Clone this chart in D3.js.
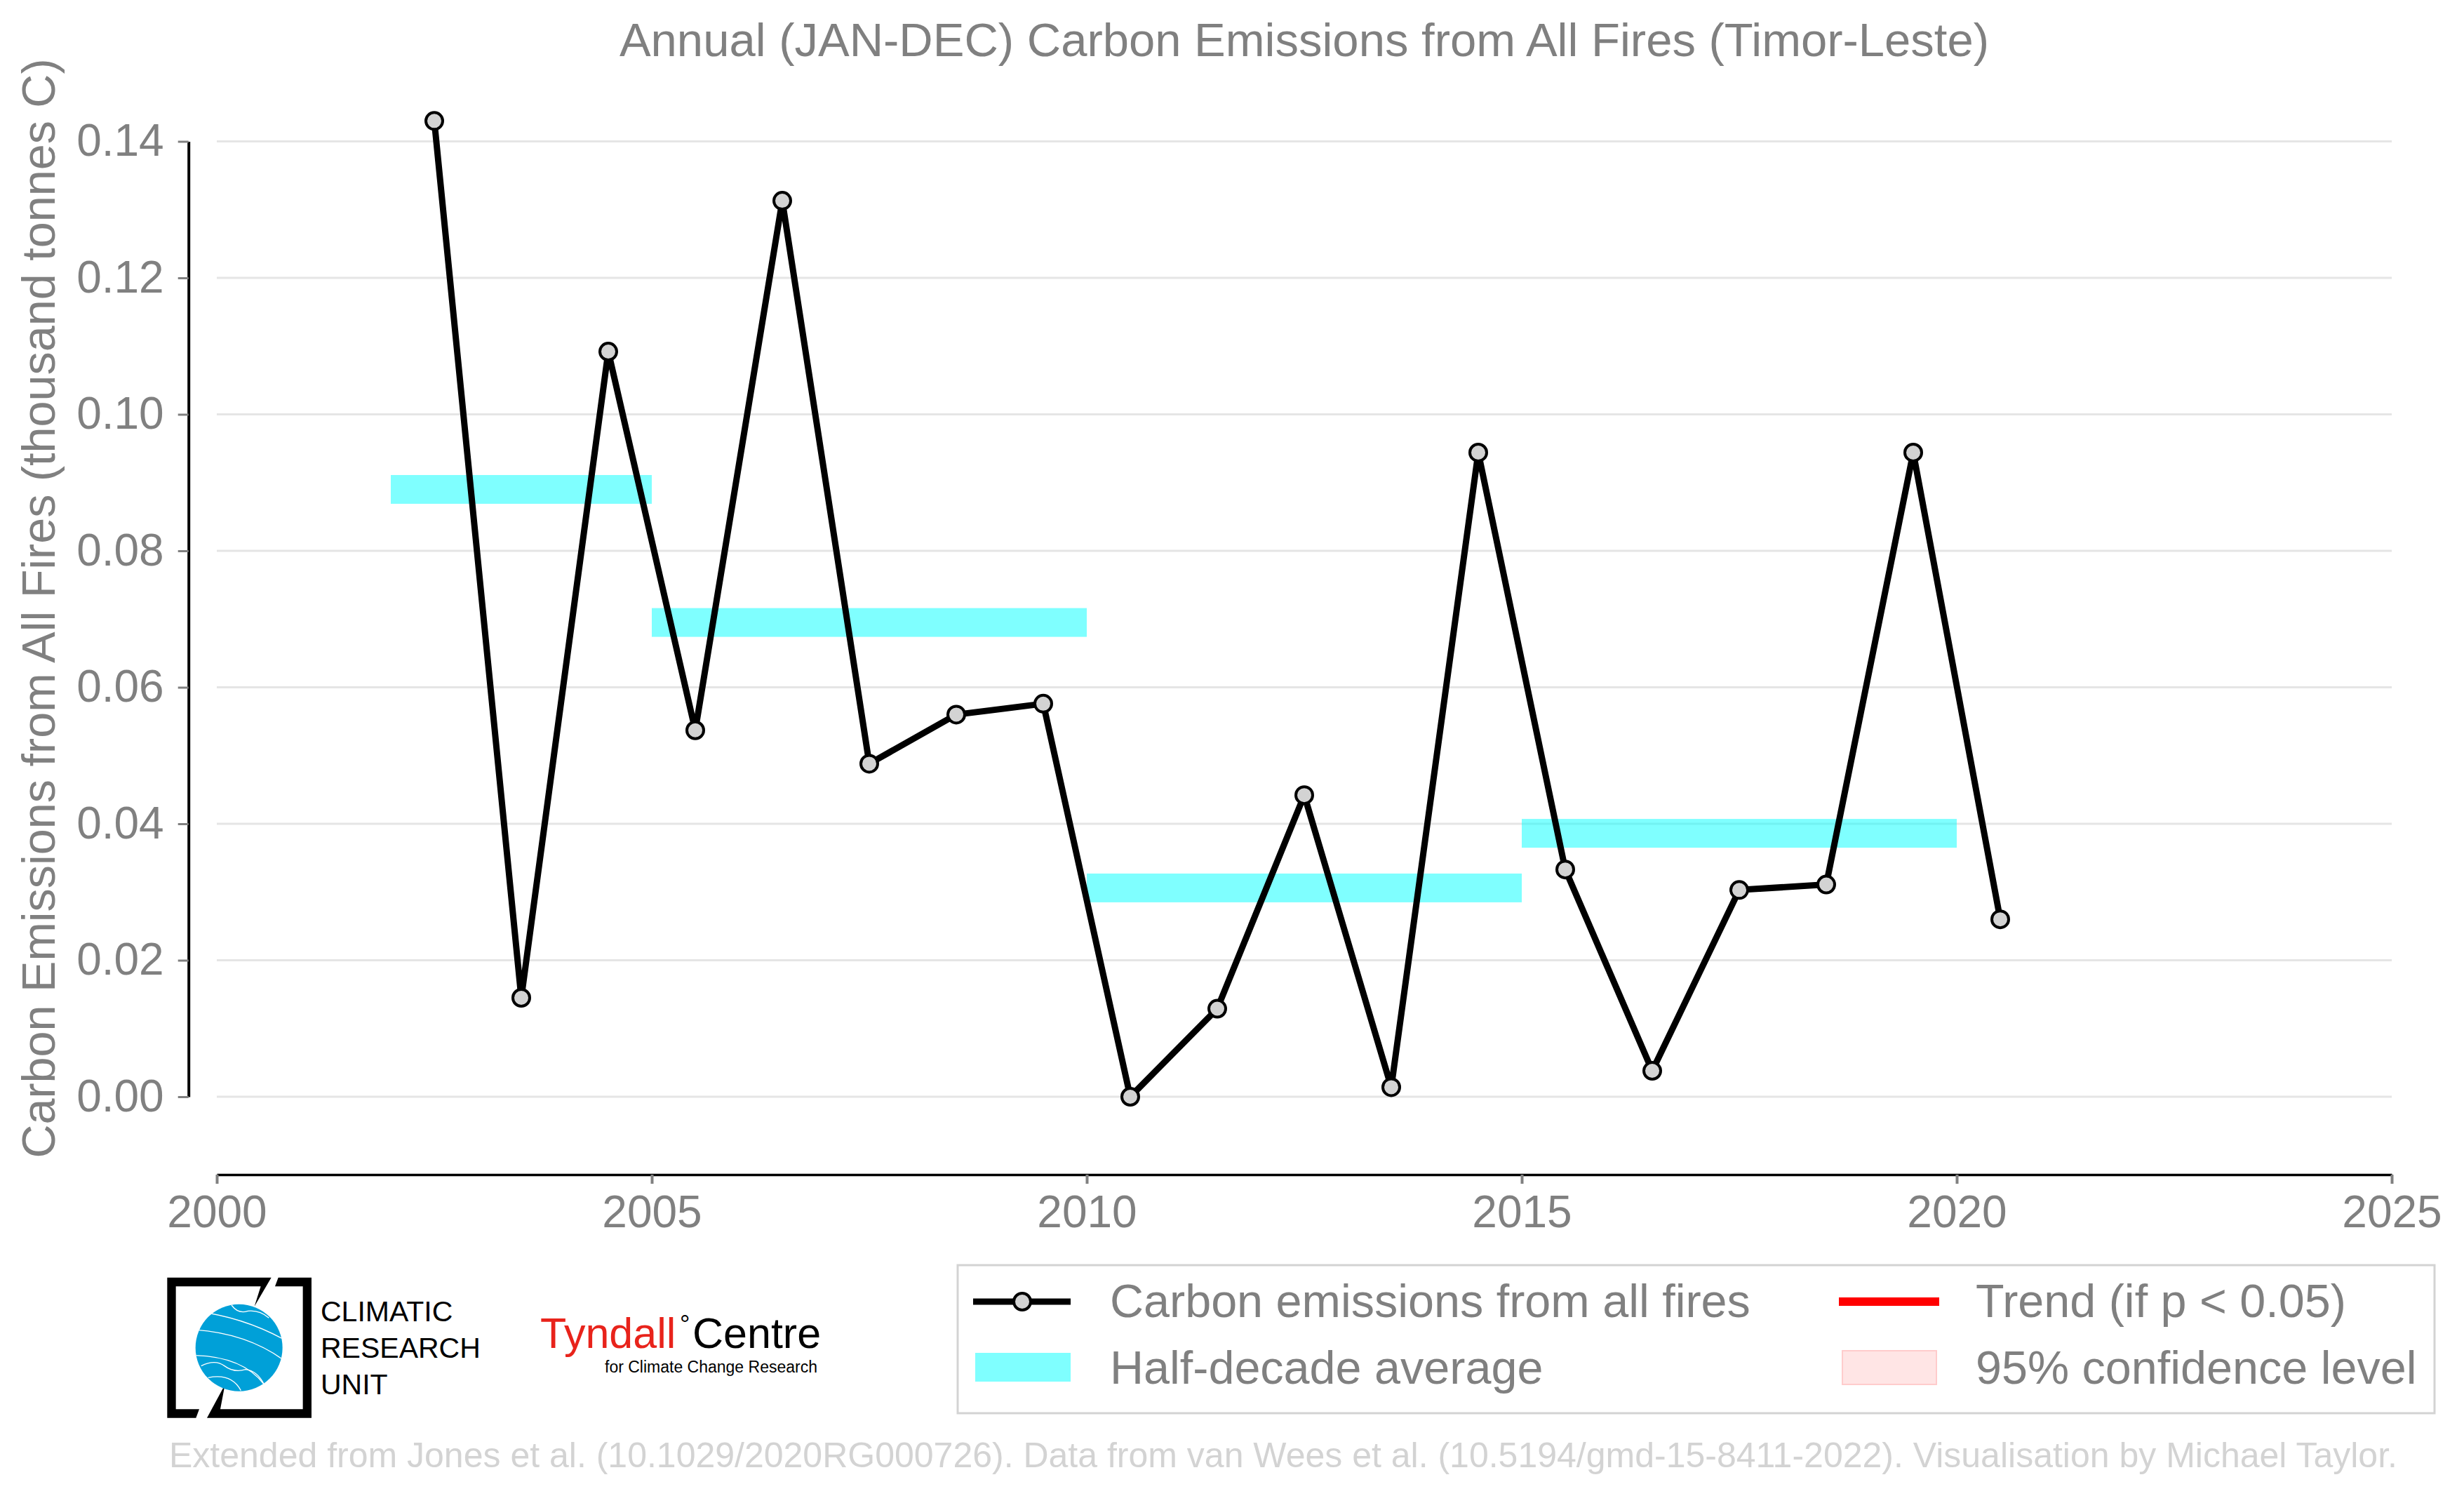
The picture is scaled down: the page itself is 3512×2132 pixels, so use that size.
<!DOCTYPE html>
<html>
<head>
<meta charset="utf-8">
<script src="https://cdn.jsdelivr.net/npm/d3@7"></script>
<style>
  body { margin: 0; background: #fff; }
  svg { display: block; font-family: "Liberation Sans", Arial, sans-serif; }
</style>
</head>
<body>
<div id="chart"></div>
<script>
// chart data
var years = [2002, 2003, 2004, 2005, 2006, 2007, 2008, 2009, 2010, 2011,
             2012, 2013, 2014, 2015, 2016, 2017, 2018, 2019, 2020];
var emissions = [0.1430, 0.0145, 0.1092, 0.0537, 0.1313, 0.0488, 0.0560, 0.0576, 0.0000, 0.0129,
                 0.0442, 0.0014, 0.0944, 0.0333, 0.0038, 0.0303, 0.0311, 0.0944, 0.0260];

// half-decade averages
var periodStart = [2002, 2005, 2010, 2015];
var periodEnd = [2005, 2010, 2015, 2020];
var periodMean = [0.0890, 0.0695, 0.0306, 0.0386];

var xTicks = [2000, 2005, 2010, 2015, 2020, 2025];
var yTicks = [0.00, 0.02, 0.04, 0.06, 0.08, 0.10, 0.12, 0.14];

var svgWidth = 3512;
var svgHeight = 2132;

var plot = { left: 309, right: 3409, zero: 1563, top: 201.5, xAxisY: 1674, yAxisX: 268.7 };

var grey = "#808080";

var svg = d3.select("#chart").append("svg")
  .attr("width", svgWidth)
  .attr("height", svgHeight);

var xScale = d3.scaleLinear().domain([2000, 2025]).range([plot.left, plot.right]);
var yScale = d3.scaleLinear().domain([0, 0.14]).range([plot.zero, plot.top]);

// grid lines
svg.append("g").selectAll("line")
  .data(yTicks)
  .enter()
  .append("line")
  .attr("x1", plot.left)
  .attr("x2", plot.right)
  .attr("y1", d => yScale(d))
  .attr("y2", d => yScale(d))
  .attr("stroke", "#e5e5e5")
  .attr("stroke-width", 3);

// y axis (offset from plot)
var yAxis = svg.append("g")
  .attr("transform", `translate(${plot.yAxisX},0)`)
  .call(d3.axisLeft(yScale).tickValues(yTicks).tickSize(15).tickSizeOuter(0)
    .tickPadding(20).tickFormat(d3.format(".2f")));
yAxis.select(".domain").attr("stroke", "#000").attr("stroke-width", 4);
yAxis.selectAll(".tick line").attr("stroke", grey).attr("stroke-width", 3);
yAxis.selectAll(".tick text").attr("fill", grey).attr("font-size", 64)
  .attr("font-family", "Liberation Sans, Arial, sans-serif");

// x axis
var xAxis = svg.append("g")
  .attr("transform", `translate(0,${plot.xAxisY})`)
  .call(d3.axisBottom(xScale).tickValues(xTicks).tickSize(13).tickSizeOuter(0)
    .tickPadding(17).tickFormat(d3.format("d")));
xAxis.select(".domain").attr("stroke", "#000").attr("stroke-width", 3.5);
xAxis.selectAll(".tick line").attr("stroke", grey).attr("stroke-width", 4);
xAxis.selectAll(".tick text").attr("fill", grey).attr("font-size", 64)
  .attr("font-family", "Liberation Sans, Arial, sans-serif");

// half-decade bars
var barHeight = 41;
svg.append("g").selectAll("rect")
  .data(periodMean)
  .enter()
  .append("rect")
  .attr("x", (d, i) => xScale(periodStart[i]))
  .attr("width", (d, i) => xScale(periodEnd[i]) - xScale(periodStart[i]))
  .attr("y", d => yScale(d) - barHeight / 2)
  .attr("height", barHeight)
  .attr("fill", "#00ffff")
  .attr("fill-opacity", 0.5);

// emissions line + markers
var points = years.map((yr, i) => ({ year: yr + 0.5, value: emissions[i] }));

var line = d3.line()
  .x(d => xScale(d.year))
  .y(d => yScale(d.value));

svg.append("path")
  .datum(points)
  .attr("d", line)
  .attr("fill", "none")
  .attr("stroke", "#000")
  .attr("stroke-width", 9)
  .attr("stroke-linejoin", "round");

svg.append("g").selectAll("circle")
  .data(points)
  .enter()
  .append("circle")
  .attr("cx", d => xScale(d.year))
  .attr("cy", d => yScale(d.value))
  .attr("r", 12)
  .attr("fill", "#d3d3d3")
  .attr("stroke", "#000")
  .attr("stroke-width", 4);

// title
svg.append("text")
  .attr("x", (plot.left + plot.right) / 2)
  .attr("y", 80)
  .attr("text-anchor", "middle")
  .attr("font-size", 67)
  .attr("fill", grey)
  .text("Annual (JAN-DEC) Carbon Emissions from All Fires (Timor-Leste)");

// y label
svg.append("text")
  .attr("transform", "translate(78,867) rotate(-90)")
  .attr("text-anchor", "middle")
  .attr("font-size", 66.5)
  .attr("fill", grey)
  .text("Carbon Emissions from All Fires (thousand tonnes C)");

// legend
var legend = svg.append("g");
legend.append("rect")
  .attr("x", 1365).attr("y", 1803)
  .attr("width", 2105).attr("height", 211)
  .attr("fill", "#fff")
  .attr("stroke", "#d3d3d3")
  .attr("stroke-width", 3);

legend.append("line")
  .attr("x1", 1387).attr("x2", 1526).attr("y1", 1855).attr("y2", 1855)
  .attr("stroke", "#000").attr("stroke-width", 9);
legend.append("circle")
  .attr("cx", 1457).attr("cy", 1855).attr("r", 12)
  .attr("fill", "#d3d3d3").attr("stroke", "#000").attr("stroke-width", 4);
legend.append("rect")
  .attr("x", 1390).attr("y", 1928).attr("width", 136).attr("height", 41)
  .attr("fill", "#00ffff").attr("fill-opacity", 0.5);
legend.append("line")
  .attr("x1", 2621).attr("x2", 2764).attr("y1", 1855).attr("y2", 1855)
  .attr("stroke", "#ff0000").attr("stroke-width", 12);
legend.append("rect")
  .attr("x", 2626).attr("y", 1925).attr("width", 134).attr("height", 48)
  .attr("fill", "#ffe5e5").attr("stroke", "#ffcccc").attr("stroke-width", 2);

var legendText = [
  { x: 1582, y: 1877, t: "Carbon emissions from all fires" },
  { x: 1582, y: 1972, t: "Half-decade average" },
  { x: 2816, y: 1877, t: "Trend (if p < 0.05)" },
  { x: 2816, y: 1972, t: "95% confidence level" }
];
legend.selectAll("text")
  .data(legendText)
  .enter()
  .append("text")
  .attr("x", d => d.x)
  .attr("y", d => d.y)
  .attr("font-size", 66.5)
  .attr("fill", grey)
  .text(d => d.t);

// CRU logo
var cru = svg.append("g").attr("transform", "translate(220,1800) scale(0.3333)");
cru.append("path")
  .attr("d", "M55,62 L500,62 L428,185 L455,100 L92,100 L92,625 L192,625 L178,662 L55,662 Z")
  .attr("fill", "#000");
cru.append("path")
  .attr("d", "M530,62 L672,62 L672,662 L225,662 L302,520 L282,625 L635,625 L635,100 L516,100 Z")
  .attr("fill", "#000");
cru.append("clipPath").attr("id", "globeClip")
  .append("circle").attr("cx", 362).attr("cy", 362).attr("r", 186);
cru.append("circle")
  .attr("cx", 362).attr("cy", 362).attr("r", 186)
  .attr("fill", "#00a0d8");
var globeLines = cru.append("g").attr("clip-path", "url(#globeClip)")
  .attr("fill", "none").attr("stroke", "#fff").attr("stroke-width", 4);
globeLines.append("path").attr("d", "M170,205 Q380,230 560,330");
globeLines.append("path").attr("d", "M170,285 Q400,300 560,420");
globeLines.append("path").attr("d", "M170,395 Q380,400 470,520");
globeLines.append("path").attr("d", "M200,440 Q260,410 300,440 Q340,470 390,455 Q440,460 470,520");
globeLines.append("path").attr("d", "M230,490 Q330,470 370,545");
globeLines.append("path").attr("d", "M330,180 Q360,220 400,205 Q450,200 490,235");

var cruText = ["CLIMATIC", "RESEARCH", "UNIT"];
svg.append("g").selectAll("text")
  .data(cruText)
  .enter()
  .append("text")
  .attr("x", 457)
  .attr("y", (d, i) => 1883 + i * 52)
  .attr("font-size", 41)
  .attr("fill", "#000")
  .text(d => d);

// Tyndall logo
svg.append("text").attr("x", 770).attr("y", 1921)
  .attr("font-size", 61).attr("fill", "#e8231b").text("Tyndall");
svg.append("text").attr("x", 969).attr("y", 1900)
  .attr("font-size", 36).attr("fill", "#000").text("°");
svg.append("text").attr("x", 987).attr("y", 1921)
  .attr("font-size", 61).attr("fill", "#000").text("Centre");
svg.append("text").attr("x", 862).attr("y", 1956)
  .attr("font-size", 23).attr("fill", "#000").text("for Climate Change Research");

// footer
svg.append("text")
  .attr("x", 241)
  .attr("y", 2091)
  .attr("font-size", 50)
  .attr("fill", "#d3d3d3")
  .text("Extended from Jones et al. (10.1029/2020RG000726). Data from van Wees et al. (10.5194/gmd-15-8411-2022). Visualisation by Michael Taylor.");
</script>
</body>
</html>
